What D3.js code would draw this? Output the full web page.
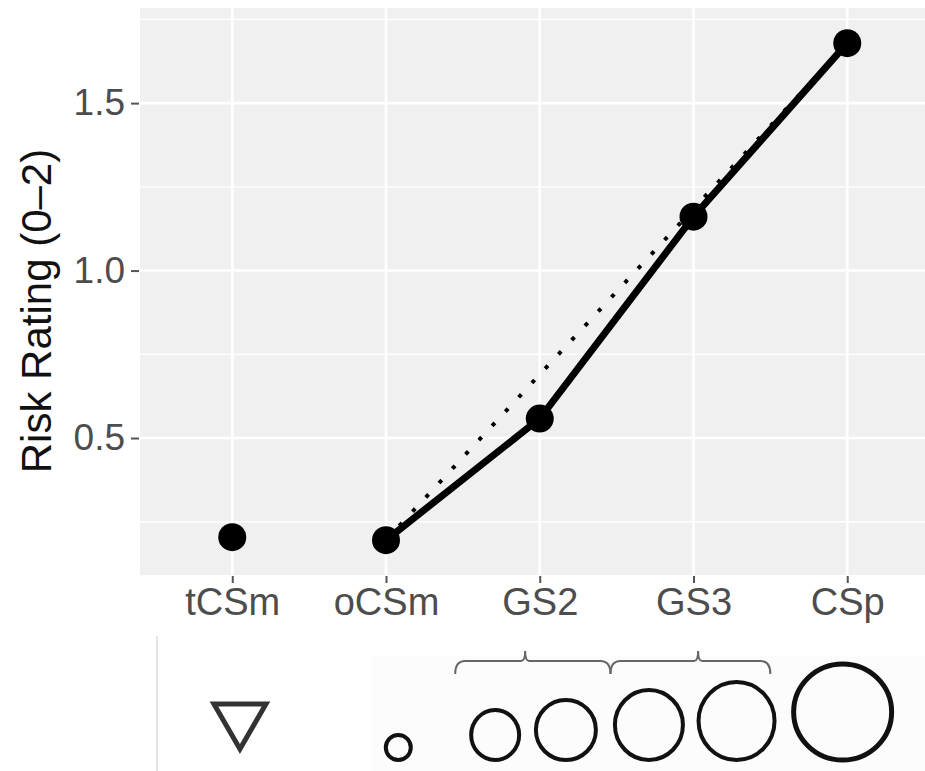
<!DOCTYPE html>
<html>
<head>
<meta charset="utf-8">
<script src="https://cdn.jsdelivr.net/npm/d3@7"></script>
<style>
  html, body { margin: 0; padding: 0; background: #ffffff; }
  svg { display: block; }
</style>
</head>
<body>
<svg id="chart" width="925" height="771"></svg>
<script>
// ---- data ----
const categories = ["tCSm", "oCSm", "GS2", "GS3", "CSp"];
const riskValues = [0.204, 0.195, 0.558, 1.161, 1.679];
const lineCategories = ["oCSm", "GS2", "GS3", "CSp"];
const trendCategories = ["oCSm", "CSp"];
const trendValues = [0.195, 1.679];
const yTicks = [0.5, 1.0, 1.5];
const yMinorTicks = [0.25, 0.75, 1.25, 1.75];
const yTickLabels = ["0.5", "1.0", "1.5"];
const yTitle = "Risk Rating (0\u20132)";

// schematic glyphs below the axis (category index position, radius x, radius y)
const glyphPos = [0.05, 1.08, 1.71, 2.17, 2.71, 3.28, 3.97];
const glyphRx  = [null, 12.5, 24, 30, 34, 38, 49];
const glyphRy  = [null, 12.5, 25, 30, 35, 39, 48];
const bracePos = [[1.45, 2.46], [2.46, 3.5]];

// ---- layout ----
const svg = d3.select("#chart");
const panel = { left: 140, top: 8, right: 925, bottom: 575 };

const x = d3.scaleLinear().domain([-0.6, 4.6]).range([panel.left, panel.left + 5.2 * 153.75]);
const xc = c => x(categories.indexOf(c));
const y = d3.scaleLinear().domain([0.091, 1.784]).range([panel.bottom, panel.top]);

const defs = svg.append("defs");
defs.append("clipPath").attr("id", "clip")
  .append("rect").attr("x", panel.left).attr("y", panel.top)
  .attr("width", panel.right - panel.left).attr("height", panel.bottom - panel.top);

// panel background
svg.append("rect")
  .attr("x", panel.left).attr("y", panel.top)
  .attr("width", panel.right - panel.left).attr("height", panel.bottom - panel.top)
  .attr("fill", "#f0f0f0");

const grid = svg.append("g").attr("clip-path", "url(#clip)");
grid.selectAll(".ymin").data(yMinorTicks).join("line")
  .attr("x1", panel.left).attr("x2", panel.right)
  .attr("y1", d => y(d)).attr("y2", d => y(d))
  .attr("stroke", "#ffffff").attr("stroke-width", 1.3);
grid.selectAll(".ymaj").data(yTicks).join("line")
  .attr("x1", panel.left).attr("x2", panel.right)
  .attr("y1", d => y(d)).attr("y2", d => y(d))
  .attr("stroke", "#ffffff").attr("stroke-width", 2.6);
grid.selectAll(".xmaj").data(categories).join("line")
  .attr("x1", d => xc(d)).attr("x2", d => xc(d))
  .attr("y1", panel.top).attr("y2", panel.bottom)
  .attr("stroke", "#ffffff").attr("stroke-width", 2.6);

// axes
const yAxis = d3.axisLeft(y).tickValues(yTicks).tickFormat((d, i) => yTickLabels[i])
  .tickSize(8).tickPadding(6);
const gy = svg.append("g").attr("transform", `translate(${panel.left - 1},0)`).call(yAxis);
gy.select(".domain").remove();
gy.selectAll(".tick line").attr("stroke", "#555").attr("stroke-width", 2);
gy.selectAll(".tick text").attr("fill", "#4d4d4d")
  .style("font-family", "'Liberation Sans', Arial, sans-serif").style("font-size", "37px");

const xAxis = d3.axisBottom(d3.scalePoint().domain(categories).range([xc("tCSm"), xc("CSp")]))
  .tickSize(7).tickPadding(5);
const gx = svg.append("g").attr("transform", `translate(0,${panel.bottom + 1})`).call(xAxis);
gx.select(".domain").remove();
gx.selectAll(".tick line").attr("stroke", "#555").attr("stroke-width", 2);
gx.selectAll(".tick text").attr("fill", "#4d4d4d")
  .style("font-family", "'Liberation Sans', Arial, sans-serif").style("font-size", "38px");

// y title
svg.append("text")
  .attr("transform", `translate(51,311) rotate(-90)`)
  .attr("text-anchor", "middle")
  .attr("fill", "#111")
  .style("font-family", "'Liberation Sans', Arial, sans-serif").style("font-size", "42px")
  .text(yTitle);

// data layer
const layer = svg.append("g").attr("clip-path", "url(#clip)");
const trendData = trendCategories.map((c, i) => ({ c, v: trendValues[i] }));
layer.append("path")
  .datum(trendData)
  .attr("d", d3.line().x(d => xc(d.c)).y(d => y(d.v)))
  .attr("fill", "none").attr("stroke", "#000").attr("stroke-width", 4)
  .attr("stroke-dasharray", "4 15.5");

const lineData = lineCategories.map(c => ({ c, v: riskValues[categories.indexOf(c)] }));
layer.append("path")
  .datum(lineData)
  .attr("d", d3.line().x(d => xc(d.c)).y(d => y(d.v)))
  .attr("fill", "none").attr("stroke", "#000").attr("stroke-width", 7)
  .attr("stroke-linejoin", "round");

layer.selectAll(".pt").data(categories).join("circle")
  .attr("cx", d => xc(d)).attr("cy", (d, i) => y(riskValues[i]))
  .attr("r", 14).attr("fill", "#000");

// ---- schematic row below ----
const sch = svg.append("g");
sch.append("rect").attr("x", 372).attr("y", 656).attr("width", 553).attr("height", 115)
  .attr("fill", "#fcfcfc");
sch.append("line").attr("x1", 157).attr("x2", 157).attr("y1", 636).attr("y2", 771)
  .attr("stroke", "#dcdcdc").attr("stroke-width", 1.5);

// triangle
const tx = x(glyphPos[0]);
sch.append("path")
  .attr("d", `M${tx - 26},${704} L${tx + 26},${704} L${tx},${749} Z`)
  .attr("fill", "none").attr("stroke", "#333").attr("stroke-width", 5)
  .attr("stroke-linejoin", "miter");

// circles (bottom aligned)
const circleIdx = d3.range(1, glyphPos.length);
sch.selectAll(".gc").data(circleIdx).join("ellipse")
  .attr("cx", i => x(glyphPos[i]))
  .attr("cy", i => 760 - glyphRy[i])
  .attr("rx", i => glyphRx[i]).attr("ry", i => glyphRy[i])
  .attr("fill", "none").attr("stroke", "#111")
  .attr("stroke-width", i => i === glyphPos.length - 1 ? 5 : 4);

// braces
sch.selectAll(".br").data(bracePos).join("path")
  .attr("d", (d, k) => {
    const a = x(d[0]), b = x(d[1]);
    const mid = x((d[0] + d[1]) / 2 + (k === 0 ? -0.05 : 0.05));
    return `M${a},674 Q${a},661 ${a + 10},661 L${mid - 4},661 Q${mid},661 ${mid},651 Q${mid},661 ${mid + 4},661 L${b - 10},661 Q${b},661 ${b},674`;
  })
  .attr("fill", "none").attr("stroke", "#666").attr("stroke-width", 2);
</script>
</body>
</html>
